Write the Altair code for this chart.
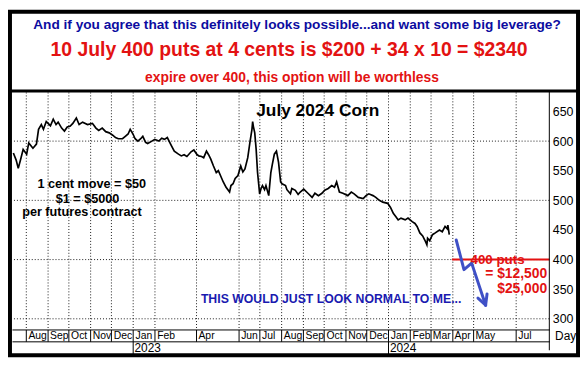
import altair as alt
import pandas as pd

# ---------------- data ----------------
DATES = [
    "2022-07-14", "2022-07-18", "2022-07-21", "2022-07-25", "2022-07-28", "2022-08-02", "2022-08-05", "2022-08-11",
    "2022-08-16", "2022-08-19", "2022-08-23", "2022-08-26", "2022-08-30", "2022-09-05", "2022-09-09", "2022-09-13",
    "2022-09-16", "2022-09-21", "2022-09-25", "2022-09-29", "2022-10-03", "2022-10-07", "2022-10-12", "2022-10-16",
    "2022-10-21", "2022-10-28", "2022-11-04", "2022-11-09", "2022-11-13", "2022-11-18", "2022-11-23", "2022-11-28",
    "2022-12-03", "2022-12-07", "2022-12-11", "2022-12-17", "2022-12-21", "2022-12-25", "2022-12-28", "2023-01-01",
    "2023-01-04", "2023-01-08", "2023-01-12", "2023-01-15", "2023-01-19", "2023-01-22", "2023-01-28", "2023-02-01",
    "2023-02-07", "2023-02-11", "2023-02-15", "2023-02-19", "2023-02-25", "2023-03-01", "2023-03-07", "2023-03-11",
    "2023-03-15", "2023-03-19", "2023-03-25", "2023-03-29", "2023-04-02", "2023-04-05", "2023-04-09", "2023-04-12",
    "2023-04-16", "2023-04-19", "2023-04-22", "2023-04-26", "2023-04-30", "2023-05-03", "2023-05-06", "2023-05-10",
    "2023-05-14", "2023-05-19", "2023-05-21", "2023-05-24", "2023-05-27", "2023-05-31", "2023-06-04", "2023-06-07",
    "2023-06-10", "2023-06-14", "2023-06-17", "2023-06-20", "2023-06-21", "2023-06-22", "2023-06-24", "2023-06-26",
    "2023-06-28", "2023-07-01", "2023-07-03", "2023-07-05", "2023-07-08", "2023-07-10", "2023-07-14", "2023-07-17",
    "2023-07-19", "2023-07-22", "2023-07-25", "2023-07-28", "2023-07-31", "2023-08-02", "2023-08-07", "2023-08-09",
    "2023-08-14", "2023-08-16", "2023-08-21", "2023-08-25", "2023-08-28", "2023-09-02", "2023-09-08", "2023-09-14",
    "2023-09-18", "2023-09-23", "2023-09-28", "2023-10-02", "2023-10-07", "2023-10-12", "2023-10-16", "2023-10-19",
    "2023-10-23", "2023-10-28", "2023-11-04", "2023-11-09", "2023-11-13", "2023-11-19", "2023-11-26", "2023-11-30",
    "2023-12-04", "2023-12-10", "2023-12-14", "2023-12-19", "2023-12-24", "2023-12-31", "2024-01-04", "2024-01-08",
    "2024-01-12", "2024-01-15", "2024-01-19", "2024-01-25", "2024-01-29", "2024-02-04", "2024-02-08", "2024-02-11",
    "2024-02-15", "2024-02-19", "2024-02-22", "2024-02-25", "2024-02-26", "2024-02-29", "2024-03-04", "2024-03-08",
    "2024-03-14", "2024-03-18", "2024-03-22", "2024-03-25", "2024-03-26", "2024-03-28",
]
PRICES = [
    580, 568, 554, 572, 586, 578, 597, 588,
    595, 620, 628, 620, 633, 626, 637, 628,
    632, 622, 617, 624, 625, 630, 639, 628,
    632, 628, 630, 622, 618, 622, 616, 614,
    610, 606, 604, 604, 608, 612, 620, 612,
    604, 600, 604, 608, 598, 596, 600, 603,
    600, 605, 603, 606, 592, 583, 578, 575,
    577, 574, 582, 585, 578, 575, 574, 572,
    583, 577, 570, 558, 547, 550, 542, 531,
    522, 514, 525, 528, 537, 542, 558, 548,
    553, 572, 597, 620, 633, 625, 614, 586,
    547, 511, 520, 525, 518, 525, 508, 547,
    560, 578, 583, 564, 531, 528, 525, 518,
    511, 520, 517, 510, 514, 519, 512, 505,
    512, 508, 512, 517, 520, 525, 522, 531,
    514, 512, 508, 514, 511, 505, 503, 508,
    511, 508, 505, 500, 497, 495, 488, 478,
    472, 467, 470, 467, 470, 464, 461, 456,
    445, 440, 433, 425, 436, 432, 442, 445,
    450, 447, 456, 452, 458, 442,
]

MONTH_TICKS = [(2022, 7), (2022, 8), (2022, 9), (2022, 10), (2022, 11), (2022, 12),
               (2023, 1), (2023, 2), (2023, 4), (2023, 6), (2023, 7), (2023, 8),
               (2023, 9), (2023, 10), (2023, 11), (2023, 12), (2024, 1), (2024, 2),
               (2024, 3), (2024, 4), (2024, 5), (2024, 7)]
YEAR_TICKS = [(2023, 1), (2024, 1)]
Y_LABELS = [300, 350, 400, 450, 500, 550, 600, 650]
Y_GRID = [300, 400, 500, 600]
X_DOMAIN = [(2022, 7, 12), (2024, 8, 18)]
Y_DOMAIN = [282, 683]

PUT_DATES = ["2024-04-01", "2024-08-18"]
PUT_PRICES = [400, 400]

ARROW_SEG = ["shaft", "shaft", "shaft", "shaft", "wingA", "wingA", "wingB", "wingB"]
ARROW_DATES = ["2024-04-07", "2024-04-18", "2024-04-29", "2024-05-19",
               "2024-05-19", "2024-05-08", "2024-05-19", "2024-05-21"]
ARROW_PRICES = [433, 383, 394, 323, 323, 335, 323, 342]

HEADER_1 = "And if you agree that this definitely looks possible...and want some big leverage?"
HEADER_2 = "10 July 400 puts at 4 cents is $200 + 34 x 10 = $2340"
HEADER_3 = "expire over 400, this option will be worthless"

CHART_TITLE = "July 2024 Corn"
LEFT_NOTES = ["1 cent move = $50", "$1 = $5000", "per futures contract"]
LEFT_DATES = ["2022-11-03", "2022-10-28", "2022-10-20"]
LEFT_PRICES = [528, 503, 480]
BLUE_NOTE = "THIS WOULD JUST LOOK NORMAL TO ME..."
PUT_NOTES = ["400 puts", "= $12,500", "$25,000"]
PUT_NOTE_DATES = ["2024-06-05", "2024-08-15", "2024-08-15"]
PUT_NOTE_PRICES = [400, 375, 350]

# ---------------- styling ----------------
W, H = 543, 240
PAD = {"left": 4, "top": 83, "right": 31, "bottom": 28}
FONT = "Liberation Sans"
RED = "#e31212"
NAVY = "#0c0ca0"
TXT_BLUE = "#1a1ab0"
ARROW_BLUE = "#3f50c6"


def dt(y, m, d=1):
    return alt.DateTime(year=y, month=m, date=d, utc=True)


xs = alt.Scale(type="utc", domain=[dt(*X_DOMAIN[0]), dt(*X_DOMAIN[1])])
ys = alt.Scale(domain=Y_DOMAIN, nice=False, zero=False)

price_df = pd.DataFrame({"date": DATES, "price": PRICES})
put_df = pd.DataFrame({"date": PUT_DATES, "price": PUT_PRICES})
arrow_df = pd.DataFrame({"seg": ARROW_SEG, "date": ARROW_DATES, "price": ARROW_PRICES})
grid_df = pd.DataFrame({"price": Y_GRID})
one = pd.DataFrame({"k": [0]})
left_df = pd.DataFrame({"t": LEFT_NOTES, "date": LEFT_DATES, "price": LEFT_PRICES})
put_note_df = pd.DataFrame({"t": PUT_NOTES, "date": PUT_NOTE_DATES, "price": PUT_NOTE_PRICES})

month_axis = alt.Axis(
    values=[dt(y, m) for y, m in MONTH_TICKS], format="%b", orient="bottom",
    grid=True, gridDash=[1, 2], gridColor="black", gridOpacity=0.9,
    tickSize=12, tickColor="black", domainColor="black",
    labelAlign="left", labelBaseline="top", labelPadding=-11, labelOffset=2,
    labelFlush=False, labelOverlap=False, labelBound=False,
    labelFont=FONT, labelFontSize=10.5, labelColor="black",
    title="Day", titleX=W + 16, titleY=1, titleAlign="center", titleBaseline="top",
    titleFont=FONT, titleFontSize=12, titleFontWeight="normal", titleColor="black",
)
year_axis = alt.Axis(
    values=[dt(y, m) for y, m in YEAR_TICKS], format="%Y", orient="bottom", offset=12,
    grid=False, tickSize=13, tickColor="black", domainColor="black",
    labelAlign="left", labelBaseline="top", labelPadding=-12, labelOffset=1,
    labelFlush=False, labelOverlap=False,
    labelFont=FONT, labelFontSize=12, labelColor="black", title=None,
)
y_axis = alt.Axis(
    orient="right", values=Y_LABELS, ticks=False, domain=False, grid=False,
    labelPadding=3, labelFont=FONT, labelFontSize=12.5, labelColor="black",
    labelOverlap=False, title="",
)

# the price-labelled right axis lives on the grid layer
ygrid = alt.Chart(grid_df).mark_rule(color="black", strokeDash=[1, 2], opacity=0.9).encode(
    y=alt.Y("price:Q", scale=ys, axis=y_axis)
)

line = alt.Chart(price_df).mark_line(color="black", strokeWidth=1.7, strokeJoin="miter").encode(
    x=alt.X("date:T", scale=xs, axis=month_axis),
    y=alt.Y("price:Q", scale=ys, axis=None),
)

put = alt.Chart(put_df).mark_line(color=RED, strokeWidth=2).encode(
    x=alt.X("date:T", scale=xs, axis=year_axis),
    y=alt.Y("price:Q", scale=ys, axis=None),
)

arrow = alt.Chart(arrow_df).mark_line(color=ARROW_BLUE, strokeWidth=3, strokeCap="round", strokeJoin="round").encode(
    x=alt.X("date:T", scale=xs, axis=None),
    y=alt.Y("price:Q", scale=ys, axis=None),
    detail="seg:N",
    order=alt.Order("date:T"),
)

title_txt = alt.Chart(pd.DataFrame({"t": [CHART_TITLE], "date": ["2023-09-22"], "price": [650]})).mark_text(
    font=FONT, fontSize=17.5, fontWeight="bold", color="black", baseline="middle"
).encode(x=alt.X("date:T", scale=xs, axis=None), y=alt.Y("price:Q", scale=ys, axis=None), text="t:N")

left_txt = alt.Chart(left_df).mark_text(
    font=FONT, fontSize=12.8, fontWeight="bold", color="black", baseline="middle"
).encode(x=alt.X("date:T", scale=xs, axis=None), y=alt.Y("price:Q", scale=ys, axis=None), text="t:N")

blue_txt = alt.Chart(pd.DataFrame({"t": [BLUE_NOTE], "date": ["2023-04-08"], "price": [333]})).mark_text(
    font=FONT, fontSize=12.4, fontWeight="bold", color=TXT_BLUE, baseline="middle", align="left"
).encode(x=alt.X("date:T", scale=xs, axis=None), y=alt.Y("price:Q", scale=ys, axis=None), text="t:N")

put_mid = alt.Chart(put_note_df.iloc[:1]).mark_text(
    font=FONT, fontSize=13.5, fontWeight="bold", color=RED, baseline="middle", align="center"
).encode(x=alt.X("date:T", scale=xs, axis=None), y=alt.Y("price:Q", scale=ys, axis=None), text="t:N")

put_right = alt.Chart(put_note_df.iloc[1:]).mark_text(
    font=FONT, fontSize=14, fontWeight="bold", color=RED, baseline="middle", align="right"
).encode(x=alt.X("date:T", scale=xs, axis=None), y=alt.Y("price:Q", scale=ys, axis=None), text="t:N")

h1 = alt.Chart(one).mark_text(text=HEADER_1, font=FONT, fontSize=13.8, fontWeight="bold", color=NAVY,
                              baseline="middle", align="center").encode(x=alt.value(288), y=alt.value(-68))
h2 = alt.Chart(one).mark_text(text=HEADER_2, font=FONT, fontSize=19.6, fontWeight="bold", color=RED,
                              baseline="middle", align="center").encode(x=alt.value(280), y=alt.value(-42))
h3 = alt.Chart(one).mark_text(text=HEADER_3, font=FONT, fontSize=14, fontWeight="bold", color=RED,
                              baseline="middle", align="center").encode(x=alt.value(283), y=alt.value(-14))

frame = alt.Chart(one).mark_rect(filled=False, stroke="black", strokeWidth=4).encode(
    x=alt.value(-2), x2=alt.value(W + PAD["right"] - 2),
    y=alt.value(-PAD["top"] + 2), y2=alt.value(H + PAD["bottom"] - 2),
)
header_rule = alt.Chart(one).mark_rule(color="black", strokeWidth=3).encode(
    x=alt.value(-2), x2=alt.value(W + PAD["right"] - 2), y=alt.value(-1)
)
right_rule = alt.Chart(one).mark_rule(color="black", strokeWidth=1).encode(
    x=alt.value(W), y=alt.value(0), y2=alt.value(H + 21)
)

chart = alt.layer(
    ygrid, line, put, arrow, title_txt, left_txt, blue_txt, put_mid, put_right,
    h1, h2, h3, frame, header_rule, right_rule,
).resolve_axis(x="independent", y="independent").properties(
    width=W, height=H,
    autosize=alt.AutoSizeParams(type="none"),
    padding=PAD,
    background="white",
).configure_view(strokeWidth=0)

chart.save("out.html", embed_options={"renderer": "svg", "actions": False})
